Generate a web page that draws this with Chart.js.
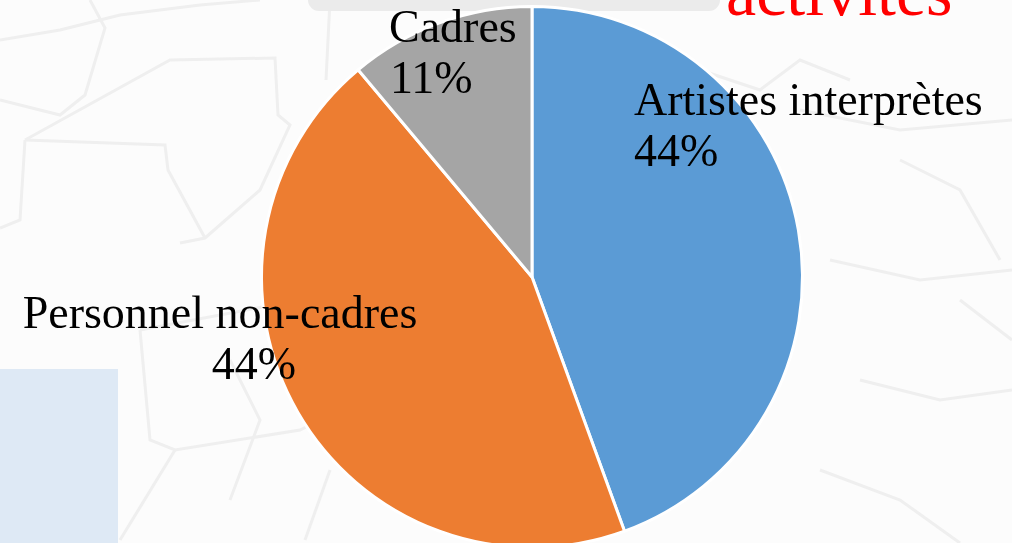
<!DOCTYPE html>
<html>
<head>
<meta charset="utf-8">
<script src="https://cdn.jsdelivr.net/npm/chart.js@4.4.0/dist/chart.umd.min.js"></script>
<style>
  html, body { margin: 0; padding: 0; width: 1012px; height: 543px; overflow: hidden; background: #fcfcfc; }
  #bg { position: absolute; left: 0; top: 0; width: 1012px; height: 543px; }
  #band { position: absolute; left: 308px; top: 0; width: 412px; height: 11px; background: #ebebeb; border-radius: 0 0 20px 20px; }
  #box { position: absolute; left: 0; top: 369px; width: 118px; height: 174px; background: #dee9f5; }
  #title { position: absolute; left: 726px; top: -52px; font-family: "Liberation Serif", serif; font-size: 68px; color: #ff0000; line-height: 88px; white-space: nowrap; }
  #wrap { position: absolute; left: 0; top: 0; width: 1012px; height: 560px; }
</style>
</head>
<body>
<svg id="bg" width="1012" height="543" xmlns="http://www.w3.org/2000/svg">
  <g fill="none" stroke="#efefef" stroke-width="3">
    <polyline points="90,0 105,28 85,95 60,115 0,100"/>
    <polyline points="25,140 170,60 275,58 278,115 290,125 260,190 205,238 180,243"/>
    <polyline points="25,140 165,145 168,170 205,238"/>
    <polyline points="25,140 20,220 0,228"/>
    <polyline points="0,40 60,30 120,15 200,5 260,0"/>
    <polyline points="330,0 326,80"/>
    <polyline points="140,330 300,300 430,290"/>
    <polyline points="140,330 150,440 175,450 300,430 320,420"/>
    <polyline points="175,450 120,540"/>
    <polyline points="330,470 305,540"/>
    <polyline points="800,110 900,130 1012,120"/>
    <polyline points="830,260 920,280 1012,270"/>
    <polyline points="860,380 940,400 1012,390"/>
    <polyline points="900,160 960,190 1000,260"/>
    <polyline points="820,470 900,500 960,543"/>
    <polyline points="960,300 1012,340"/>
    <polyline points="700,70 760,90 800,60 850,80"/>
    <polyline points="230,360 260,420 230,500"/>
  </g>
</svg>
<div id="band"></div>
<div id="box"></div>
<div id="title">activités</div>
<div id="wrap"><canvas id="c" width="1012" height="560"></canvas></div>
<script>
const categories = ["Artistes interprètes", "Personnel non-cadres", "Cadres"];
const values = [4, 4, 1];
const colors = ["#5b9bd5", "#ed7d31", "#a5a5a5"];

// label line anchors (x, first baseline, align) for each category
const labelLayout = [
  { x: 634, y: 115, align: "left", x2: 634, align2: "left" },
  { x: 220, y: 328, align: "center", x2: 254, align2: "center" },
  { x: 389, y: 42, align: "left", x2: 390, align2: "left" }
];

const labelsPlugin = {
  id: "pieLabels",
  afterDatasetsDraw(chart) {
    const ctx = chart.ctx;
    const data = chart.data.datasets[0].data;
    const total = data.reduce((a, b) => a + b, 0);
    ctx.save();
    ctx.fillStyle = "#000";
    ctx.font = '46px "Liberation Serif", serif';
    ctx.textBaseline = "alphabetic";
    chart.data.labels.forEach((lab, i) => {
      const L = labelLayout[i];
      const pct = Math.round(data[i] / total * 100) + "%";
      ctx.textAlign = L.align;
      ctx.fillText(lab, L.x, L.y);
      ctx.textAlign = L.align2;
      ctx.fillText(pct, L.x2, L.y + 51);
    });
    ctx.restore();
  }
};

new Chart(document.getElementById("c"), {
  type: "pie",
  data: {
    labels: categories,
    datasets: [{
      data: values,
      backgroundColor: colors,
      borderColor: "#ffffff",
      borderWidth: 3
    }]
  },
  options: {
    responsive: false,
    animation: false,
    layout: { padding: { left: 260, right: 208, top: 5, bottom: 11 } },
    plugins: { legend: { display: false }, tooltip: { enabled: false } }
  },
  plugins: [labelsPlugin]
});
</script>
</body>
</html>
